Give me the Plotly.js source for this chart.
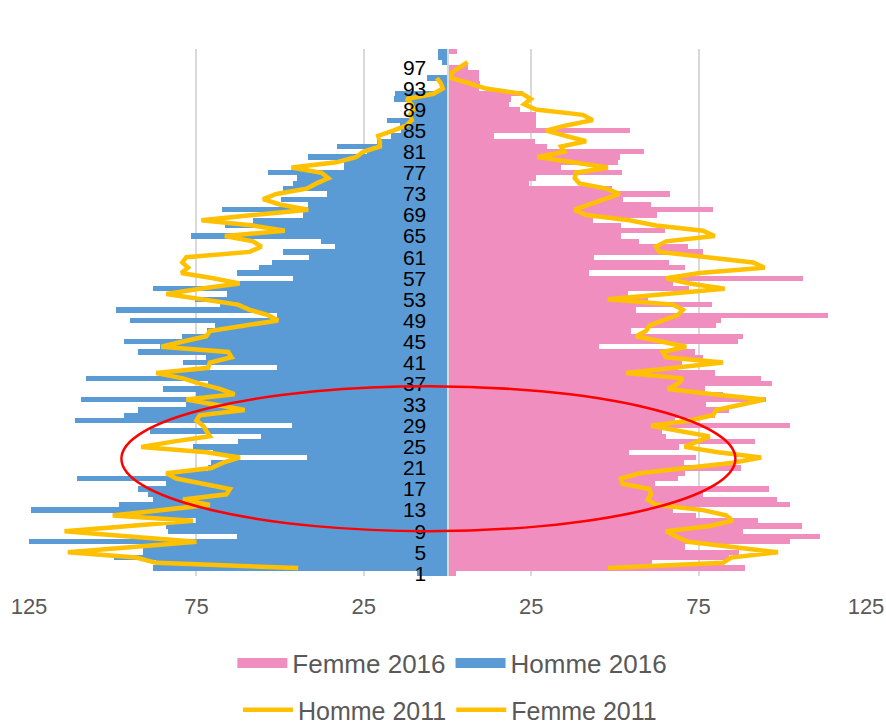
<!DOCTYPE html>
<html><head><meta charset="utf-8">
<script src="https://cdn.plot.ly/plotly-3.0.1.min.js"></script>
<style>html,body{margin:0;padding:0;background:#fff}#chart{width:886px;height:726px}</style>
</head><body><div id="chart"></div>
<script>
// categories (age index, bottom = 1)
const ages = [];
for (let a = 1; a <= 100; a++) ages.push(a);
const ageTicks = [1,5,9,13,17,21,25,29,33,37,41,45,49,53,57,61,65,69,73,77,81,85,89,93,97];

// Homme 2016 (drawn to the left)
const homme2016 = [9,88,87,99.5,91,91,125,63,83.5,84,
  75,98,124.4,98,88,89.5,92.5,84,110.6,82,
  71.5,70.5,42,70,76,62.6,55.8,88.9,46.3,111.4,
  96.5,92.5,78,109.4,75,85,71.5,108,85,51,
  78.9,72,92.5,86,96.5,79.4,71.8,69.3,94.7,51,
  99,68,75.5,66,88,63,46,63,56.3,52.4,
  41.3,49.2,33.7,37.7,76.5,49,66.5,58,43.1,67.5,
  41.6,49.6,36,49,46,45,53.6,31,31,41.6,
  24,33,21,17,14,14.2,18.2,11,10,11,
  16,15.7,1.7,1.7,6.2,0,0,1.5,2.7,2.7];

// Femme 2016 (drawn to the right)
const femme2016 = [2.5,89,61.1,84.2,87,70.8,102.2,111.4,88.2,106,
  92.7,74.1,67.3,102.4,98.5,76.3,95.9,62.1,68.8,71,
  87.7,70.5,74.1,54.3,69,91.7,65.3,64,102.2,68,
  80,84.2,77.3,95,82.3,77,96.9,93.5,80,68.8,
  70,76.3,73.8,45.2,86.7,88.4,54.8,80.3,81.6,113.7,
  56.3,79,60,53.8,72,67.3,106.2,42.4,71,66.3,
  43.9,76.3,71.8,57.3,51.8,65.1,51.8,43.4,62.5,79.3,
  60.8,52.3,66.5,49,24.4,26.4,52,33.9,50.8,51.6,
  58.8,29.6,26,14,54.5,26.4,26.4,26.4,21.7,18.4,
  19,22.4,9.5,9.7,9.5,9.5,6,0,0,2.7];

// Homme 2011 line (left)
const homme2011 = [null,44.6,87,93,113.4,94,75,95,114.4,95,
  76,100,86,71,79,66,65,73,81,84,
  70.5,67,62,72,91.5,82,71,72,73,75,
  74,60.6,69,78,63.6,68,74,79,87,71.5,
  71,64.5,65.5,85.5,79,72,71,61,50.6,53.6,
  59.1,62.6,73.5,84,74,62.1,70,79.5,77.5,79.2,
  78,59.1,55.6,58.1,66.5,48.6,58.1,73.5,58.1,41.6,
  50.1,55.1,51.1,42.1,39.1,35.6,37.6,46.6,33.2,27.2,
  25.2,20.2,20.2,20.7,16.2,12.2,10.7,11.2,10.2,10.7,
  12.2,4.2,1.4,2,3.2,null,null,null,null,null];

// Femme 2011 line (right)
const femme2011 = [null,47.9,82.3,84.7,98.7,85.2,71.8,68.3,65.3,78.3,
  85.2,83.2,76.3,62.3,59.8,60.8,60.3,52.3,51.8,57.3,
  71.3,85.2,93.7,80.8,70.8,74.3,78.3,69.3,60.8,72.3,
  79.3,80.3,87.2,94.7,79.3,65.8,68.8,70.3,53.3,67.3,
  82.3,65.3,64.3,71.3,63.3,56.3,59.3,60.3,64.3,68.8,
  70.3,67.3,47.9,67.3,82.8,72.3,65.3,75.3,94.7,91.3,
  77.3,63.3,62.3,65.3,79.8,76.3,62.3,54.3,41.4,37.9,
  42.4,46.9,51.4,47.4,39.4,38,38.4,47.9,36.9,26.9,
  34.9,33.9,41.4,35.4,29.4,35.4,43.4,40.4,26.4,22.9,
  24.9,22.4,11.5,6.5,1,1.3,3.5,6,null,null];

const xTickVals = [-125,-75,-25,25,75,125];
const xTickText = ['125','75','25','25','75','125'];

const PINK = '#F08FBF', BLUE = '#5B9BD5', GOLD = '#FFC000';
const FONT = '"Liberation Sans", Arial, sans-serif';

const traces = [
  {type:'bar', orientation:'h', name:'Femme 2016', x: femme2016, y: ages,
   marker:{color:PINK, line:{width:0}}, showlegend:false, hoverinfo:'skip'},
  {type:'bar', orientation:'h', name:'Homme 2016', x: homme2016.map(v => -v), y: ages,
   marker:{color:BLUE, line:{width:0}}, showlegend:false, hoverinfo:'skip'},
  {type:'scatter', mode:'lines', name:'Femme 2016', x:[null], y:[null],
   line:{color:PINK, width:16}, legend:'legend'},
  {type:'scatter', mode:'lines', name:'Homme 2016', x:[null], y:[null],
   line:{color:BLUE, width:16}, legend:'legend'},
  {type:'scatter', mode:'lines', name:'Homme 2011', x: homme2011.map(v => v === null ? null : -v), y: ages,
   line:{color:GOLD, width:4.5}, legend:'legend2', hoverinfo:'skip'},
  {type:'scatter', mode:'lines', name:'Femme 2011', x: femme2011, y: ages,
   line:{color:GOLD, width:4.5}, legend:'legend2', hoverinfo:'skip'}
];

const layout = {
  width:886, height:726,
  margin:{l:29.3, r:20, t:48.65, b:150.15, autoexpand:false},
  paper_bgcolor:'#ffffff', plot_bgcolor:'#ffffff',
  barmode:'overlay', bargap:0,
  showlegend:true,
  xaxis:{range:[-125,125], tickvals:xTickVals, ticktext:xTickText,
    showgrid:true, gridcolor:'#D9D9D9', gridwidth:2, zeroline:false, showline:false,
    ticks:'', ticklabelstandoff:15,
    tickfont:{family:FONT, size:22, color:'#595959'}, fixedrange:true},
  yaxis:{range:[0.5,100.5], tickvals:ageTicks, anchor:'free', position:0.5, side:'left',
    showgrid:false, zeroline:false, showline:true, linecolor:'#D9D9D9', linewidth:2,
    ticks:'', ticklabelstandoff:16, layer:'above traces',
    tickfont:{family:FONT, size:21, color:'#000000'}, fixedrange:true},
  legend:{orientation:'h', x:0.5058, xanchor:'center', y:-0.1653, yanchor:'middle',
    font:{family:FONT, size:26, color:'#595959'}, itemwidth:50, bgcolor:'rgba(0,0,0,0)'},
  legend2:{orientation:'h', x:0.503, xanchor:'center', y:-0.2545, yanchor:'middle',
    font:{family:FONT, size:25, color:'#595959'}, itemwidth:50, bgcolor:'rgba(0,0,0,0)'},
  shapes:[{type:'circle', xref:'x', yref:'y', x0:-97.4, x1:86, y0:9.0, y1:36.5,
    line:{color:'#FF0000', width:2.5}, layer:'above'}]
};

Plotly.newPlot('chart', traces, layout, {displayModeBar:false, staticPlot:true});
</script>
</body></html>
